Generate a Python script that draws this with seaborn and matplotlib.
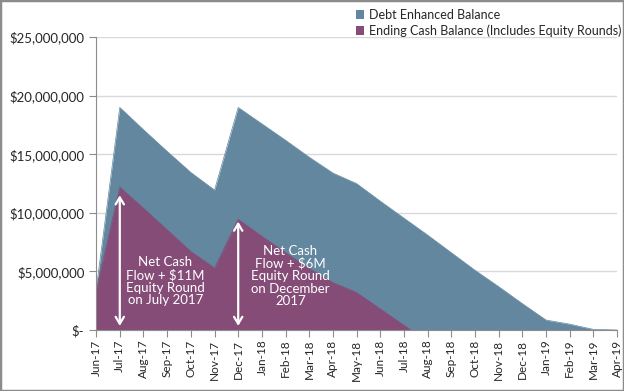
import numpy as np
import pandas as pd
import matplotlib
matplotlib.use("Agg")
import matplotlib.pyplot as plt
from matplotlib.patches import Rectangle
from matplotlib.ticker import FuncFormatter
import seaborn as sns

meses = ['Jun-17', 'Jul-17', 'Aug-17', 'Sep-17', 'Oct-17', 'Nov-17', 'Dec-17',
         'Jan-18', 'Feb-18', 'Mar-18', 'Apr-18', 'May-18', 'Jun-18', 'Jul-18',
         'Aug-18', 'Sep-18', 'Oct-18', 'Nov-18', 'Dec-18', 'Jan-19', 'Feb-19',
         'Mar-19', 'Apr-19']

debt_balance = [3.4, 19.0, 17.1, 15.25, 13.45, 11.95, 19.0, 17.6, 16.2, 14.75,
                13.4, 12.5, 11.0, 9.55, 8.1, 6.6, 5.1, 3.7, 2.25, 0.85, 0.5,
                0.05, 0.0]
cash_balance = [3.4, 12.2, 10.4, 8.55, 6.7, 5.3, 9.45, 8.0, 6.6, 5.25, 4.05,
                3.2, 1.8, 0.4, -1.0, np.nan, np.nan, np.nan, np.nan, np.nan,
                np.nan, np.nan, np.nan]

df = pd.DataFrame({
    'mes': np.arange(len(meses)),
    'debt': np.array(debt_balance) * 1e6,
    'cash': np.array(cash_balance) * 1e6,
})

cor_azul = '#62879f'
cor_roxo = '#854c77'

sns.set_style('white')
plt.rcParams['font.family'] = ['Lato', 'DejaVu Sans']

fig = plt.figure(figsize=(6.24, 3.91), dpi=100)
ax = fig.add_axes([0.154, 0.156, 0.835, 0.749])

ax.fill_between(df['mes'], 0, df['debt'], color=cor_azul, lw=0,
                label='Debt Enhanced Balance', zorder=2)
cash = df.dropna()
ax.fill_between(cash['mes'], 0, cash['cash'], color=cor_roxo, lw=0,
                label='Ending Cash Balance (Includes Equity Rounds)', zorder=3)
sns.lineplot(data=df, x='mes', y='debt', color=cor_azul, lw=0.5, ax=ax,
             zorder=2, legend=False)
sns.lineplot(data=cash, x='mes', y='cash', color=cor_roxo, lw=0.5, ax=ax,
             zorder=3, legend=False)
if ax.get_legend() is not None:
    ax.get_legend().remove()

ax.set_xlim(0, len(meses) - 1)
ax.set_ylim(0, 25e6)
ax.set_yticks(np.arange(0, 25e6 + 1, 5e6))
ax.yaxis.set_major_formatter(FuncFormatter(lambda v, p: '$-' if v == 0 else f'${v:,.0f}'))
ax.set_xticks(df['mes'])
ax.set_xticklabels(meses, rotation=90, fontsize=8.5)
ax.tick_params(axis='y', labelsize=9.5, length=5, width=0.8, color='#8c8c8c', direction='out', left=True)
ax.tick_params(axis='x', length=5, width=0.8, color='#8c8c8c', direction='out', bottom=True, pad=2)
ax.set_xlabel('')
ax.set_ylabel('')
ax.grid(axis='y', color='#d9d9d9', lw=1, zorder=0)
ax.set_axisbelow(True)
for lado in ['top', 'right']:
    ax.spines[lado].set_visible(False)
for lado in ['left', 'bottom']:
    ax.spines[lado].set_color('#8c8c8c')
    ax.spines[lado].set_linewidth(0.8)
    ax.spines[lado].set_zorder(5)

# setas e textos das rodadas de investimento
for xm, ytop in [(1, 11.5e6), (6, 9.25e6)]:
    ax.annotate('', xy=(xm, ytop), xytext=(xm, 0.35e6),
                arrowprops=dict(arrowstyle='<->,head_length=0.5,head_width=0.3',
                                color='white', lw=1.6, shrinkA=0, shrinkB=0),
                zorder=6)

ax.text(2.92, 4.15e6, 'Net Cash\nFlow + $11M\nEquity Round\non July 2017',
        color='white', ha='center', va='center', fontsize=9.5, linespacing=1.05, zorder=6)
ax.text(8.2, 4.6e6, 'Net Cash\nFlow + $6M\nEquity Round\non December\n2017',
        color='white', ha='center', va='center', fontsize=9.5, linespacing=1.05, zorder=6)

fig.legend(loc='upper left', bbox_to_anchor=(0.556, 1.0), frameon=False,
           fontsize=9, handlelength=0.7, handleheight=0.7, handletextpad=0.4,
           labelspacing=0.3, borderaxespad=0.3)

fig.add_artist(Rectangle((0, 0), 1, 1, transform=fig.transFigure, fill=False,
                         ec='#8c8c8c', lw=2.5))

fig.savefig('out.png', dpi=100)
